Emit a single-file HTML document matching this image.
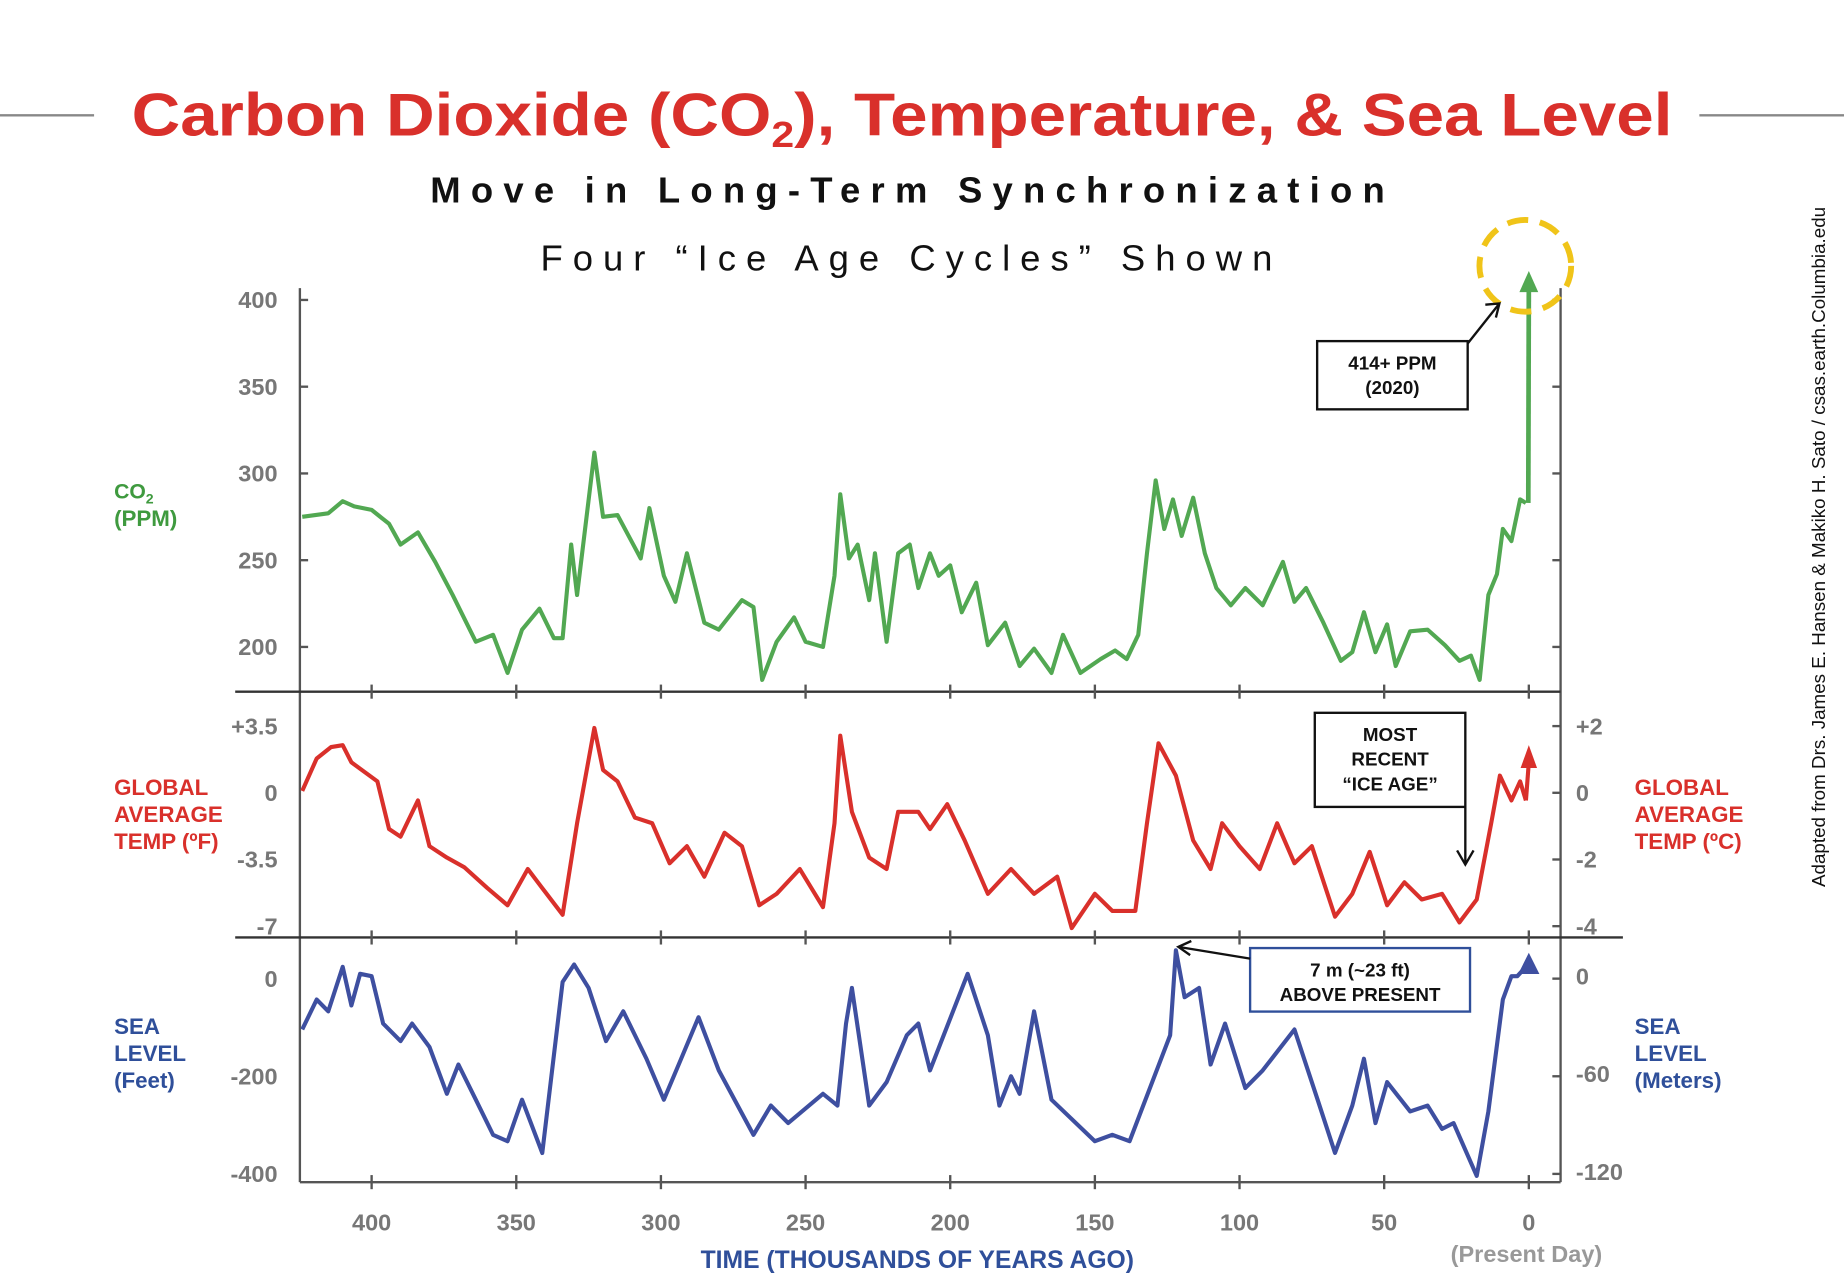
<!DOCTYPE html>
<html><head><meta charset="utf-8"><style>
html,body{margin:0;padding:0;background:#fff;}
svg{display:block;}
text{font-family:"Liberation Sans",sans-serif;}
</style></head><body>
<svg id="chart" width="1844" height="1288" viewBox="0 0 1568 1095" preserveAspectRatio="none" xmlns="http://www.w3.org/2000/svg">
<line x1="0" y1="98" x2="80" y2="98" stroke="#888" stroke-width="2"/>
<line x1="1445" y1="98" x2="1568" y2="98" stroke="#888" stroke-width="2"/>
<g transform="translate(767,0) scale(1.123,1)">
<text x="0" y="115" text-anchor="middle" font-size="51" font-weight="bold" fill="#d9302b">Carbon Dioxide (CO<tspan font-size="31" dy="10">2</tspan><tspan dy="-10">), Temperature, &amp; Sea Level</tspan></text>
</g>
<text x="776" y="172" text-anchor="middle" font-size="31" font-weight="bold" letter-spacing="8.7" fill="#111">Move in Long-Term Synchronization</text>
<text x="775" y="230" text-anchor="middle" font-size="31" letter-spacing="8.5" fill="#111">Four “Ice Age Cycles” Shown</text>
<text transform="translate(1552,465) rotate(-90)" text-anchor="middle" font-size="16" fill="#111">Adapted from Drs. James E. Hansen &amp; Makiko H. Sato / csas.earth.Columbia.edu</text>
<g id="axes"></g>
<g id="marks"></g>
<g id="annot"></g>
</svg>
<script>
const ticksX=[400,350,300,250,200,150,100,50,0];
const co2T=[424,415,410,406,400,394,390,384,378,372,364,358,353,348,342,337,334,331,329,323,320,315,307,304,299,295,291,285,280,272,268,265,260,254,250,244,240,238,235,232,228,226,222,218,214,211,207,204,200,196,191,187,181,176,171,165,161,155,148,143,139,135,132,129,126,123,120,116,112,108,103,98,92,85,81,77,71,65,61,57,53,49,46,41,35,29,24,20,17,14,11,9,6,3,1];
const co2V=[275,277,284,281,279,271,259,266,249,230,203,207,185,210,222,205,205,259,230,312,275,276,251,280,241,226,254,214,210,227,223,181,203,217,203,200,241,288,251,259,227,254,203,254,259,234,254,241,247,220,237,201,214,189,199,185,207,185,193,198,193,207,254,296,268,285,264,286,254,234,224,234,224,249,226,234,214,192,197,220,197,213,189,209,210,201,192,195,181,230,242,268,261,285,283];
const tempT=[424,419,414,410,407,398,394,390,384,380,374,368,360,353,346,341,334,329,323,320,315,309,303,297,291,285,278,272,266,260,252,244,240,238,234,228,222,218,211,207,201,195,187,179,171,163,158,150,144,136,132,128,122,116,110,106,100,93,87,81,75,67,61,55,49,43,37,30,24,18,13,10,6,3,1];
const tempV=[0.1,1.8,2.4,2.5,1.6,0.6,-1.9,-2.3,-0.4,-2.8,-3.4,-3.9,-5.0,-5.9,-4.0,-5.0,-6.4,-1.6,3.4,1.2,0.6,-1.3,-1.6,-3.7,-2.8,-4.4,-2.1,-2.8,-5.9,-5.3,-4.0,-6.0,-1.6,3.0,-1.0,-3.4,-4.0,-1.0,-1.0,-1.9,-0.6,-2.5,-5.3,-4.0,-5.3,-4.4,-7.1,-5.3,-6.2,-6.2,-1.6,2.6,0.9,-2.5,-4.0,-1.6,-2.8,-4.0,-1.6,-3.7,-2.8,-6.5,-5.3,-3.1,-5.9,-4.7,-5.6,-5.3,-6.8,-5.6,-1.6,0.9,-0.4,0.6,-0.4];
const seaT=[424,419,415,410,407,404,400,396,390,386,380,374,370,364,358,353,348,341,334,330,325,319,313,305,299,293,287,280,268,262,256,244,239,236,234,228,222,215,211,207,194,187,183,179,176,171,165,150,144,138,124,122,119,114,110,105,98,92,81,73,67,61,57,53,49,41,35,30,26,18,14,9,6,4,1];
const seaV=[-104,-43,-67,24,-55,10,5,-92,-128,-92,-140,-236,-176,-248,-320,-333,-248,-357,-7,29,-19,-128,-67,-164,-248,-164,-79,-188,-320,-260,-296,-236,-260,-92,-19,-260,-212,-116,-92,-188,10,-116,-260,-200,-236,-67,-248,-333,-320,-333,-116,58,-38,-19,-176,-92,-224,-188,-104,-248,-357,-260,-164,-296,-212,-272,-260,-308,-296,-404,-272,-43,5,5,24];
const co2Ticks=[200,250,300,350,400];
const tempTicksL=["+3.5","0","-3.5","-7"];
const tempTicksLV=[3.5,0,-3.5,-7];
const tempTicksR=["+2","0","-2","-4"];
const seaTicksL=[0,-200,-400];
const seaTicksR=["0","-60","-120"];

const X=t=>1300-2.46*t;
const YC=v=>550-(v-200)*1.475;
const YT=v=>674-v*16.2;
const YS=v=>832-v*0.415;
const NS="http://www.w3.org/2000/svg";
function el(tag,attrs,parent,txt){const e=document.createElementNS(NS,tag);for(const k in attrs)e.setAttribute(k,attrs[k]);if(txt!==undefined)e.textContent=txt;parent.appendChild(e);return e;}
const axes=document.getElementById('axes'),marks=document.getElementById('marks'),annot=document.getElementById('annot');
const G="#777";
let a;
a=el('line',{x1:255,y1:245,x2:255,y2:1005,stroke:"#555","stroke-width":2},axes);


a=el('line',{x1:1327,y1:245,x2:1327,y2:1005,stroke:"#555","stroke-width":2},axes);


a=el('line',{x1:200,y1:588,x2:1327,y2:588,stroke:"#333","stroke-width":2},axes);


a=el('line',{x1:200,y1:797,x2:1380,y2:797,stroke:"#333","stroke-width":2},axes);


a=el('line',{x1:255,y1:1005,x2:1327,y2:1005,stroke:"#555","stroke-width":2},axes);


ticksX.forEach(t=>{
  [588,797,1005].forEach(y=>{const l=el('line',{x1:X(t),y1:y-6,x2:X(t),y2:y+6,stroke:"#555","stroke-width":2},axes);
  
  });
  const tx=el('text',{x:X(t),y:1046,"text-anchor":"middle","font-size":20,"font-weight":"bold",fill:G},axes,String(t));
  
  
});
co2Ticks.forEach(v=>{
  const l=el('line',{x1:255,y1:YC(v),x2:262,y2:YC(v),stroke:"#555","stroke-width":2},axes);
  
  
  const r=el('line',{x1:1320,y1:YC(v),x2:1327,y2:YC(v),stroke:"#555","stroke-width":2},axes);
  
  
  const tx=el('text',{x:236,y:YC(v)+7,"text-anchor":"end","font-size":20,"font-weight":"bold",fill:G},axes,String(v));
  
  
});
tempTicksLV.forEach((v,i)=>{
  const y=YT(v);
  const tx=el('text',{x:236,y:y+7,"text-anchor":"end","font-size":20,"font-weight":"bold",fill:G},axes,tempTicksL[i]);
  
  
  const tr=el('text',{x:1340,y:y+7,"font-size":20,"font-weight":"bold",fill:G},axes,tempTicksR[i]);
  
  
  const l=el('line',{x1:1320,y1:y,x2:1327,y2:y,stroke:"#555","stroke-width":2},axes);
  
  
});
seaTicksL.forEach((v,i)=>{
  const y=YS(v);
  const tx=el('text',{x:236,y:y+7,"text-anchor":"end","font-size":20,"font-weight":"bold",fill:G},axes,String(v));
  
  
  const tr=el('text',{x:1340,y:y+5,"font-size":20,"font-weight":"bold",fill:G},axes,seaTicksR[i]);
  
  
  const l=el('line',{x1:1320,y1:y,x2:1327,y2:y,stroke:"#555","stroke-width":2},axes);
  
  
});
function lbl(lines,x,y,color,name,anchor){lines.forEach((s,i)=>{const t=el('text',{x:x,y:y+i*23,"font-size":19,"font-weight":"bold",fill:color,"text-anchor":anchor||"start"},axes,s);

});}
const co2L=el('text',{x:97,y:424,"font-size":18,"font-weight":"bold",fill:"#3f9a3f"},axes);
co2L.innerHTML='CO<tspan font-size="12" dy="4">2</tspan>';


lbl(["(PPM)"],97,447,"#3f9a3f","co2-axis-unit");
lbl(["GLOBAL","AVERAGE","TEMP (ºF)"],97,676,"#d9302b","temp-f-axis-title");
lbl(["GLOBAL","AVERAGE","TEMP (ºC)"],1390,676,"#d9302b","temp-c-axis-title");
lbl(["SEA","LEVEL","(Feet)"],97,879,"#2f4f9a","sea-ft-axis-title");
lbl(["SEA","LEVEL","(Meters)"],1390,879,"#2f4f9a","sea-m-axis-title");
const xt=el('text',{x:780,y:1078,"text-anchor":"middle","font-size":21,"font-weight":"bold",fill:"#2f4f9a"},axes,"TIME (THOUSANDS OF YEARS AGO)");


const pd=el('text',{x:1298,y:1073,"text-anchor":"middle","font-size":20,"font-weight":"bold",fill:"#999"},axes,"(Present Day)");


function series(T,V,Y,color,name){const d=T.map((t,i)=>(i?'L':'M')+X(t).toFixed(1)+','+Y(V[i]).toFixed(1)).join(' ');
const p=el('path',{d:d,fill:"none",stroke:color,"stroke-width":3.5,"stroke-linejoin":"round"},marks);

return p;}
series(co2T,co2V,YC,"#52a852","co2-line");
series(tempT,tempV,YT,"#d9302b","temperature-line");
series(seaT,seaV,YS,"#3e4fa0","sea-level-line");
const lastX=X(co2T[co2T.length-1]);
let e=el('line',{x1:lastX+2,y1:YC(co2V[co2V.length-1]),x2:X(0),y2:YC(414)+10,stroke:"#52a852","stroke-width":4},marks);


e=el('polygon',{points:`${X(0)-8},${YC(414)+14} ${X(0)+8},${YC(414)+14} ${X(0)},${YC(414)-4}`,fill:"#52a852"},marks);


e=el('line',{x1:X(1),y1:YT(-0.4),x2:X(0),y2:YT(1.6),stroke:"#d9302b","stroke-width":3.5},marks);


e=el('polygon',{points:`${X(0)-7},${YT(1.3)} ${X(0)+7},${YT(1.3)} ${X(0)},${YT(2.5)}`,fill:"#d9302b"},marks);


e=el('polygon',{points:`${X(0)-9},828 ${X(0)+9},828 ${X(0)},810`,fill:"#3e4fa0"},marks);


e=el('circle',{cx:1297,cy:226,r:39,fill:"none",stroke:"#f0c419","stroke-width":5,"stroke-dasharray":"18 10"},annot);


function box(x,y,w,h,lines,stroke,name){const b=el('rect',{x:x,y:y,width:w,height:h,fill:"#fff",stroke:stroke,"stroke-width":2},annot);


lines.forEach((s,i)=>{const t=el('text',{x:x+w/2,y:y+24+i*21,"text-anchor":"middle","font-size":16,"font-weight":"bold",fill:"#111"},annot,s);

});}
box(1120,290,128,58,["414+ PPM","(2020)"],"#111","ppm-2020-callout");
box(1118,606,128,80,["MOST","RECENT","“ICE AGE”"],"#111","ice-age-callout");
box(1063,806,187,54,["7 m  (~23 ft)","ABOVE PRESENT"],"#2f4f9a","sea-above-callout");
e=el('polyline',{points:"1248,292 1275,258",fill:"none",stroke:"#111","stroke-width":2},annot);


e=el('polyline',{points:"1263,259 1275,258 1272,270",fill:"none",stroke:"#111","stroke-width":2},annot);


e=el('polyline',{points:"1246,686 1246,735",fill:"none",stroke:"#111","stroke-width":2},annot);


e=el('polyline',{points:"1239,723 1246,735 1253,723",fill:"none",stroke:"#111","stroke-width":2},annot);


e=el('polyline',{points:"1063,815 1002,805",fill:"none",stroke:"#111","stroke-width":2},annot);


e=el('polyline',{points:"1013,800 1002,805 1012,812",fill:"none",stroke:"#111","stroke-width":2},annot);


</script>
</body></html>
